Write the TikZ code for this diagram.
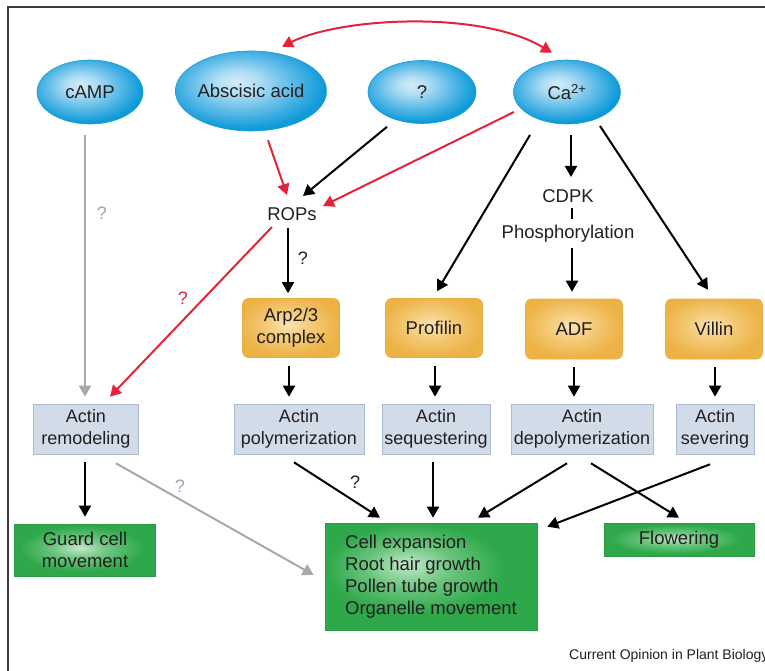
\documentclass[tikz,border=0pt]{standalone}
\usepackage{fontspec}
\setmainfont{Liberation Sans}
\usetikzlibrary{shapes.geometric,arrows.meta}

% palette
\definecolor{inkdark}{HTML}{231F20}
\definecolor{sigedge}{HTML}{129BD8}
\definecolor{sighi}{HTML}{D4ECF8}
\definecolor{sigmid}{HTML}{5DBBE8}
\definecolor{siglo}{HTML}{0F9AD8}
\definecolor{prothi}{HTML}{FAE3B2}
\definecolor{protmid}{HTML}{F4CA76}
\definecolor{protlo}{HTML}{ECB246}
\definecolor{protedge}{HTML}{E8AE45}
\definecolor{actfill}{HTML}{D1DCE8}
\definecolor{actedge}{HTML}{A9BBCE}
\definecolor{outhi}{HTML}{C3E8CA}
\definecolor{outmid}{HTML}{6CC57E}
\definecolor{outlo}{HTML}{2EA84A}
\definecolor{outedge}{HTML}{2B9C44}
\definecolor{linkred}{HTML}{E3233A}
\definecolor{linkgray}{HTML}{A8A8A8}
\definecolor{qgray}{HTML}{97A6B6}
\definecolor{framegray}{HTML}{3A3A3A}

% soft highlights for the shaded shapes
\pgfdeclareradialshading{sigglow}{\pgfpoint{-5bp}{6bp}}{%
  color(0bp)=(sighi); color(7bp)=(sighi!70!sigmid); color(17bp)=(sigmid);
  color(27bp)=(siglo); color(60bp)=(siglo)}
\pgfdeclareradialshading{protglow}{\pgfpoint{-2bp}{3bp}}{%
  color(0bp)=(prothi); color(12bp)=(protmid); color(26bp)=(protlo); color(60bp)=(protlo)}
\pgfdeclareradialshading{outglowleft}{\pgfpoint{-6bp}{6bp}}{%
  color(0bp)=(outhi); color(10bp)=(outmid); color(21bp)=(outlo); color(60bp)=(outlo)}
\pgfdeclareradialshading{outglowmid}{\pgfpoint{-2bp}{2bp}}{%
  color(0bp)=(outhi); color(10bp)=(outmid); color(22bp)=(outlo); color(60bp)=(outlo)}

\newcommand\fsz[2]{\fontsize{#1}{#2}\selectfont}

\tikzset{
  signal/.style={ellipse, draw=sigedge, line width=0.6pt, shading=sigglow,
    inner sep=0pt, text=inkdark, font=\fsz{18.5}{22}},
  plain/.style={inner sep=0pt, text=inkdark, font=\fsz{18.5}{22}},
  protbox/.style={rectangle, rounded corners=6pt, draw=protedge, line width=0.6pt,
    shading=protglow, minimum width=97, minimum height=59, inner sep=0pt,
    align=center, text=inkdark, font=\fsz{18.5}{22}},
  actbox/.style={rectangle, draw=actedge, line width=0.6pt, fill=actfill,
    minimum height=50, inner sep=0pt, align=center, text=inkdark, font=\fsz{18}{22}},
  outbox/.style={rectangle, draw=outedge, line width=0.6pt, inner sep=0pt,
    text=inkdark, font=\fsz{18.5}{22}},
  qmark/.style={inner sep=0pt, font=\fsz{18}{20}},
  arr/.style={line width=2pt, -{Triangle[length=11pt,width=12pt]}},
  redarr/.style={arr, draw=linkred, -{Triangle[length=11pt,width=12pt,fill=linkred]}},
  grayarr/.style={arr, draw=linkgray, -{Triangle[length=11pt,width=12pt,fill=linkgray]}},
}

\begin{document}
\begin{tikzpicture}[x=1pt,y=-1pt]
\useasboundingbox (0,0) rectangle (765,671);

% frame
\draw[framegray, line width=1.6pt] (8,671) -- (8,7) -- (765,7);

% signals
\node[signal, minimum width=106, minimum height=64] (camp) at (90,92) {cAMP};
\node[signal, minimum width=148, minimum height=80] (aba) at (251,91) {Abscisic acid};
\node[signal, minimum width=108, minimum height=63] (unk) at (422,92) {?};
\node[signal, minimum width=107, minimum height=64] (ca) at (567,92) {Ca\textsuperscript{2+}};

% intermediates
\node[plain] (rops) at (292,214) {ROPs};
\node[plain] (cdpk) at (568,196) {CDPK};
\node[plain] (phos) at (568,234) {Phosphorylation};

% actin-binding proteins
\node[protbox] (arp) at (291,328) {Arp2/3\\complex};
\node[protbox] (prof) at (434,328) {Profilin};
\node[protbox, minimum height=60] (adf) at (574,329) {ADF};
\node[protbox, minimum height=60] (vil) at (714,329) {Villin};

% actin activities
\node[actbox, minimum width=105] (rem) at (86,429) {Actin\\remodeling};
\node[actbox, minimum width=130] (pol) at (299,429) {Actin\\polymerization};
\node[actbox, minimum width=108] (seq) at (436,429) {Actin\\sequestering};
\node[actbox, minimum width=142] (dep) at (582,429) {Actin\\depolymerization};
\node[actbox, minimum width=78] (sev) at (715,429) {Actin\\severing};

% cellular outcomes
\node[outbox, shading=outglowmid, minimum width=141, minimum height=52, align=center]
  (guard) at (85,550) {Guard cell\\movement};
\node[outbox, shading=outglowleft, minimum width=212, minimum height=107, align=left]
  (cellgrowth) at (431,577) {Cell expansion\\Root hair growth\\Pollen tube growth\\Organelle movement};
\node[outbox, shading=outglowmid, minimum width=150, minimum height=33]
  (flow) at (679,540) {Flowering};

% abscisic acid <-> calcium
\draw[line width=2pt, draw=linkred,
      {Triangle[length=11pt,width=12pt,fill=linkred]}-{Triangle[length=11pt,width=12pt,fill=linkred]}]
  ([shift={(31,-4)}]aba.north) .. controls +(58,-29) and +(-72,-43) .. ([shift={(-15,-7)}]ca.north);

% inputs to ROPs
\draw[redarr] ([shift={(17,9)}]aba.south) -- ([shift={(-5,-19)}]rops.center);
\draw[arr] ([shift={(-35,3)}]unk.south) -- ([shift={(11,-18)}]rops.center);
\draw[redarr] ([shift={(-53,20)}]ca.center) -- ([shift={(31,-8)}]rops.center);

% ROPs outputs
\draw[arr] ([shift={(-4,14)}]rops.center) -- ([shift={(-3,-5)}]arp.north);
\node[qmark, text=inkdark] (qarp) at (303,258) {?};
\draw[redarr] ([shift={(-20,13)}]rops.center) -- ([shift={(24,-7)}]rem.north);
\node[qmark, text=linkred] (qrem) at (183,298) {?};

% cAMP
\draw[grayarr] ([shift={(-5,11)}]camp.south) -- ([shift={(-1,-7)}]rem.north);
\node[qmark, text=qgray] (qcamp) at (102,213) {?};

% calcium branches
\draw[arr] ([shift={(-37,43)}]ca.center) -- ([shift={(3,-7)}]prof.north);
\draw[arr] ([shift={(4,11)}]ca.south) -- ([shift={(3,-19)}]cdpk.center);
\draw[line width=2pt] ([shift={(4,12)}]cdpk.center) -- ([shift={(4,-15)}]phos.center);
\draw[arr] ([shift={(4,14)}]phos.center) -- ([shift={(-2,-7)}]adf.north);
\draw[arr] ([shift={(33,34)}]ca.center) -- ([shift={(-6,-9)}]vil.north);

% proteins to actin activities
\draw[arr] ([shift={(-2,8)}]arp.south) -- ([shift={(-10,-7)}]pol.north);
\draw[arr] ([shift={(1,8)}]prof.south) -- ([shift={(-1,-7)}]seq.north);
\draw[arr] ([shift={(0,8)}]adf.south) -- ([shift={(-8,-7)}]dep.north);
\draw[arr] ([shift={(1,8)}]vil.south) -- ([shift={(0,-7)}]sev.north);

% actin activities to outcomes
\draw[arr] ([shift={(-1,8)}]rem.south) -- ([shift={(0,-7)}]guard.north);
\draw[grayarr] ([shift={(30,9)}]rem.south) -- ([shift={(-11,-2)}]cellgrowth.west);
\node[qmark, text=qgray] (qgrow) at (180,486) {?};
\draw[arr] ([shift={(-5,8)}]pol.south) -- ([shift={(-51,-5.5)}]cellgrowth.north);
\node[qmark, text=inkdark] (qpol) at (355,482) {?};
\draw[arr] ([shift={(-3,8)}]seq.south) -- ([shift={(2,-5.5)}]cellgrowth.north);
\draw[arr] ([shift={(-15,9)}]dep.south) -- ([shift={(47,-5.5)}]cellgrowth.north);
\draw[arr] ([shift={(9,9)}]dep.south) -- ([shift={(0,-5.5)}]flow.north);
\draw[arr] ([shift={(-5,10)}]sev.south) -- ([shift={(10,3.5)}]cellgrowth.north east);

% credit line, running to the right edge
\node[anchor=base west, inner sep=0pt, text=inkdark, font=\fsz{14}{16}] (credit) at (569,659)
  {Current Opinion in Plant Biology};
\end{tikzpicture}
\end{document}
